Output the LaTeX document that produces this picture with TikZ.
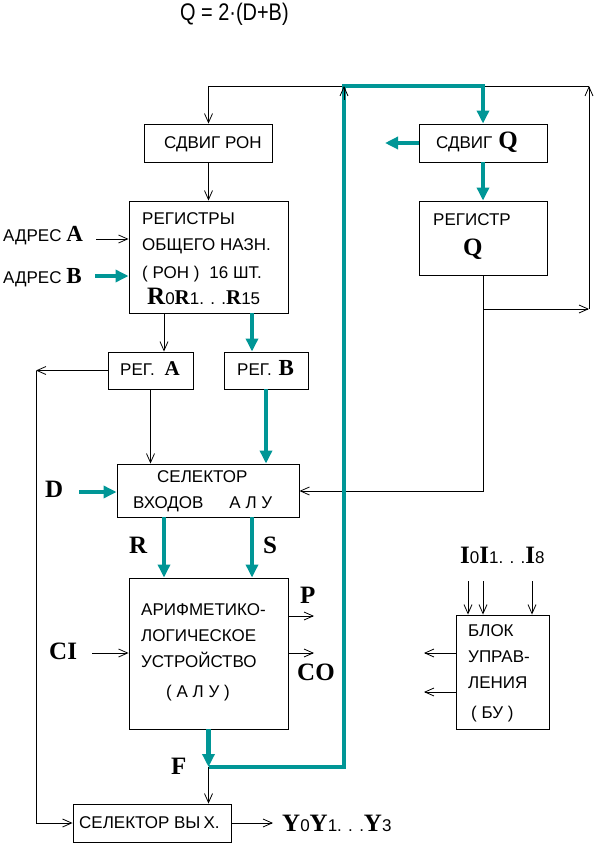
\documentclass[tikz,border=0pt]{standalone}
\usepackage{graphicx}
\usepackage{fontspec}
\setmainfont{Liberation Sans}
\newfontfamily\serb{Liberation Serif}
\usetikzlibrary{arrows.meta}
\definecolor{tealc}{RGB}{0,150,150}
\newcommand\fs[1]{\fontsize{#1}{#1}\selectfont}
\newcommand\bigL[2]{{\serb\bfseries\fs{#1}#2}}
\begin{document}
\begin{tikzpicture}[x=1pt,y=-1pt,
  box/.style={draw, line width=0.9pt, inner sep=0pt},
  wire/.style={line width=0.8pt},
  arr/.style={wire, -{Straight Barb[length=9pt,width=8pt,line width=0.8pt]}},
  tl/.style={line width=4.5pt, draw=tealc},
  tarr/.style={tl, -{Triangle[length=13pt,width=12pt]}},
  lbl/.style={anchor=base west, inner sep=0pt, font=\fs{17}}]
\path[use as bounding box] (0,0) rectangle (595,845);

% boxes
\node[box,minimum width=128pt,minimum height=38pt] (shron) at (208.5,143) {};
\node[box,minimum width=128pt,minimum height=38pt] (shq) at (483,143) {};
\node[box,minimum width=159pt,minimum height=112pt] (ron) at (208.5,257) {};
\node[box,minimum width=128pt,minimum height=74pt] (regq) at (483,238) {};
\node[box,minimum width=85pt,minimum height=37pt] (rega) at (150.5,370.5) {};
\node[box,minimum width=84pt,minimum height=37pt] (regb) at (266,370.5) {};
\node[box,minimum width=182pt,minimum height=53pt] (selin) at (208,490.5) {};
\node[box,minimum width=159pt,minimum height=151pt] (alu) at (208.5,653.5) {};
\node[box,minimum width=93pt,minimum height=114pt] (bu) at (502.5,672) {};
\node[box,minimum width=158pt,minimum height=38pt] (selout) at (152,823) {};

% coordinates
\coordinate (tR) at (589,86);
\coordinate (jR) at (589,309);
\coordinate (jQ) at (483,309);
\coordinate (jQ2) at (483,491);
\coordinate (tT) at (344,86);
\coordinate (Fj) at (208.5,767);
\coordinate (lc) at (36,370.5);
\coordinate (xA) at (164,0);
\coordinate (xB) at (252,0);
\coordinate (shqOut) at (385,143);
\coordinate (aA) at (96,239);
\coordinate (aB) at (95,276);
\coordinate (dD) at (79,492);
\coordinate (pP) at (314,616);
\coordinate (pCO) at (314,653);
\coordinate (cCI) at (92,653);
\coordinate (yOut) at (273,823);
\coordinate (i0) at (468,581);
\coordinate (i1) at (483,581);
\coordinate (i8) at (532,581);
\coordinate (o1) at (424,653);
\coordinate (o2) at (424,692);

% thin wires
\draw[arr] (regq.south) -- (jQ) -- (jR);
\draw[arr] (jR) -- (tR);
\draw[arr] (tR) -- (tR -| shron.north) -- (shron.north);
\draw[arr] (jQ) -- (jQ2) -- (jQ2 -| selin.east);
\draw[arr] (shron.south) -- (ron.north);
\draw[arr] (aA) -- (aA -| ron.west);
\draw[arr] (ron.south -| xA) -- (rega.north -| xA);
\draw[arr] (rega.south) -- (rega.south |- selin.north);
\draw[arr] (pP -| alu.east) -- (pP);
\draw[arr] (pCO -| alu.east) -- (pCO);
\draw[arr] (cCI) -- (cCI -| alu.west);
\draw[arr] (Fj) -- (Fj |- selout.north);
\draw[arr] (rega.west) -- (lc);
\draw[arr] (lc) |- (selout.west);
\draw[arr] (selout.east) -- (yOut);
\draw[arr] (i0) -- (i0 |- bu.north);
\draw[arr] (i1) -- (i1 |- bu.north);
\draw[arr] (i8) -- (i8 |- bu.north);
\draw[arr] (o1 -| bu.west) -- (o1);
\draw[arr] (o2 -| bu.west) -- (o2);

% teal wires
\draw[tarr] (alu.south) -- (Fj);
\draw[tarr] (Fj) -| (tT) -| (shq.north);
\draw[tarr] (shq.south) -- (regq.north);
\draw[tarr] (shq.west) -- (shqOut);
\draw[tarr] (aB) -- (aB -| ron.west);
\draw[tarr] (ron.south -| xB) -- (regb.north -| xB);
\draw[tarr] (regb.south) -- (regb.south |- selin.north);
\draw[tarr] (dD) -- (dD -| selin.west);
\draw[tarr] (selin.south -| xA) -- (alu.north -| xA);
\draw[tarr] (selin.south -| xB) -- (alu.north -| xB);
\draw[arr] ([yshift=-14pt]tT) -- (tT);

% texts
\node[lbl, font=\fs{24}] (formula) at (180,21) {\scalebox{0.83}[1]{Q = 2·(D+B)}};
\node[lbl] (t1) at (164,149) {СДВИГ РОН};
\node[lbl] (t2) at (436,149) {СДВИГ\hspace{6pt}\bigL{25}{Q}};
\node[lbl] (t3) at (433,225) {РЕГИСТР};
\node[lbl] (t4) at (463,255) {\bigL{25}{Q}};
\node[lbl] (t5) at (142,224) {РЕГИСТРЫ};
\node[lbl] (t6) at (142,250) {ОБЩЕГО НАЗН.};
\node[lbl] (t7) at (142,278) {( РОН )\hspace{10pt}16 ШТ.};
\node[lbl] (t8) at (147,304) {\bigL{25}{R}0\bigL{21}{R}1. . .\bigL{21}{R}15};
\node[lbl] (t9) at (3,241) {АДРЕС \bigL{23}{A}};
\node[lbl] (t10) at (3,283) {АДРЕС \bigL{23}{B}};
\node[lbl] (t11) at (120,375) {РЕГ.\hspace{10pt}\bigL{21}{A}};
\node[lbl] (t12) at (237,375) {РЕГ.\hspace{7pt}\bigL{23}{B}};
\node[lbl] (t13) at (157,482) {СЕЛЕКТОР};
\node[lbl] (t14) at (133,508) {ВХОДОВ\hspace{26pt}А Л У};
\node[lbl] (t15) at (45,497) {\bigL{25}{D}};
\node[lbl] (t16) at (129,553) {\bigL{25}{R}};
\node[lbl] (t17) at (263,553) {\bigL{25}{S}};
\node[lbl] (t18) at (300,603) {\bigL{25}{P}};
\node[lbl] (t19) at (297,680) {\bigL{25}{CO}};
\node[lbl] (t20) at (49,659) {\bigL{25}{CI}};
\node[lbl] (t21) at (171,774) {\bigL{25}{F}};
\node[lbl] (t22) at (141,615) {АРИФМЕТИКО-};
\node[lbl] (t23) at (141,641) {ЛОГИЧЕСКОЕ};
\node[lbl] (t24) at (141,667) {УСТРОЙСТВО};
\node[lbl] (t25) at (166,697) {( А Л У )};
\node[lbl] (t26) at (79,828) {СЕЛЕКТОР ВЫ\hspace{3pt}Х.};
\node[lbl] (t27) at (282,831) {\bigL{25}{Y}0\bigL{25}{Y}1. . .\bigL{25}{Y}3};
\node[lbl] (t28) at (460,563) {\bigL{25}{I}0\bigL{25}{I}1. . .\bigL{25}{I}8};
\node[lbl] (t29) at (468,636) {БЛОК};
\node[lbl] (t30) at (468,662) {УПРАВ-};
\node[lbl] (t31) at (468,688) {ЛЕНИЯ};
\node[lbl] (t32) at (471,718) {( БУ )};
\end{tikzpicture}
\end{document}
